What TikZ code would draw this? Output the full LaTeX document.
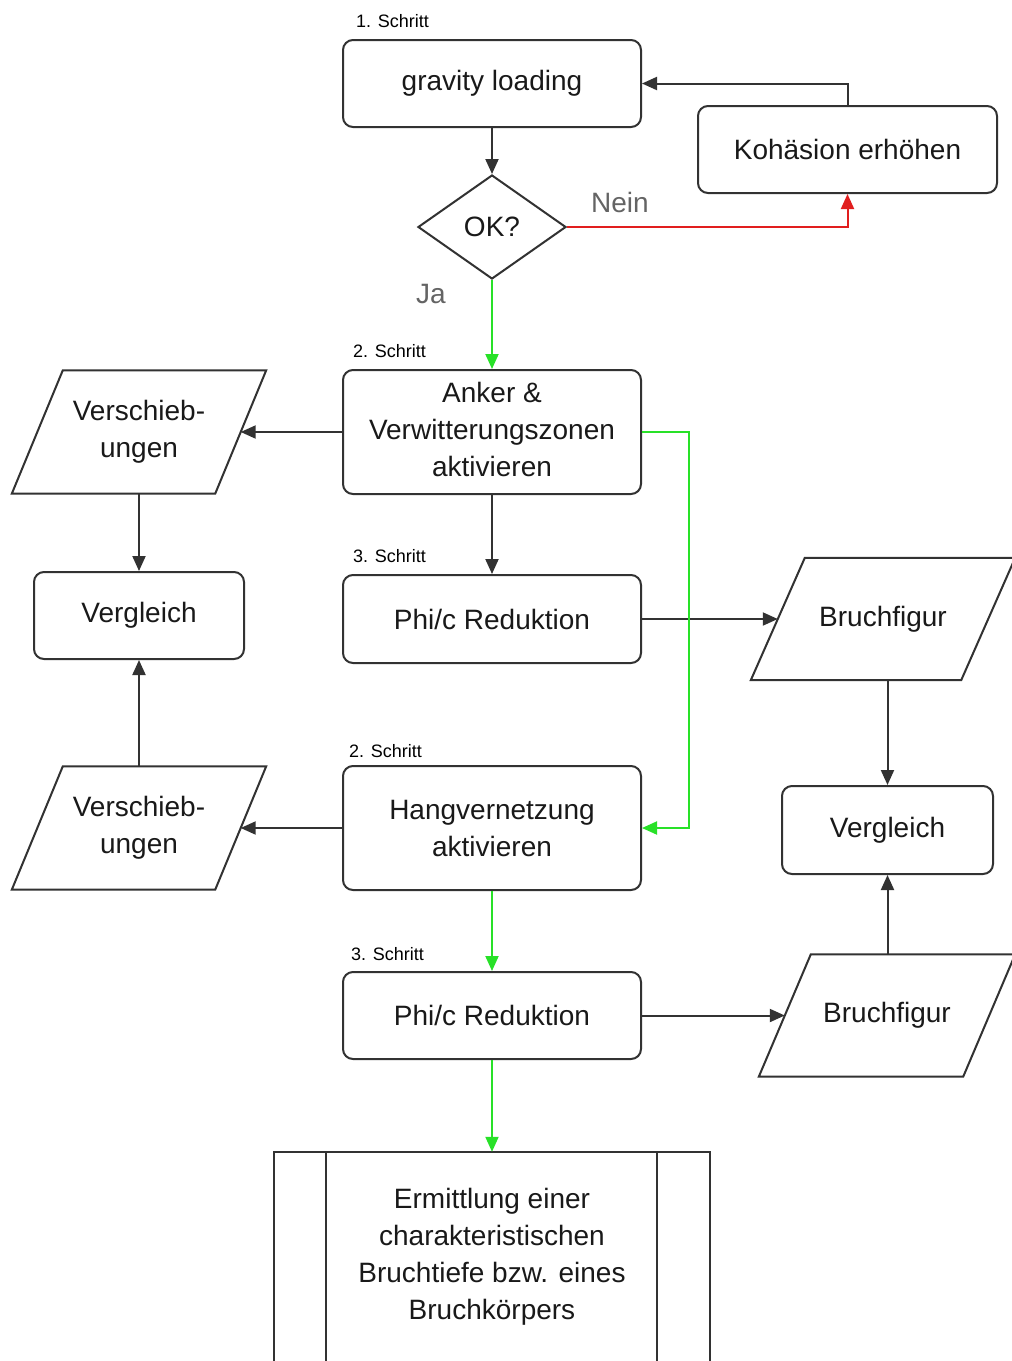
\documentclass[tikz,border=0pt]{standalone}
\usepackage{fontspec}
\setmainfont{Liberation Sans}
\usetikzlibrary{shapes.geometric,arrows.meta}
\definecolor{lgreen}{RGB}{40,225,40}
\definecolor{lred}{RGB}{225,30,30}
\definecolor{edgec}{RGB}{50,50,50}
\definecolor{txtc}{RGB}{25,25,25}
\definecolor{lblc}{RGB}{100,100,100}
\begin{document}
\begin{tikzpicture}[x=1pt,y=-1pt,
  font=\fontsize{28}{37}\selectfont,
  proc/.style={draw=edgec, line width=2pt, rounded corners=10pt, minimum width=298pt, minimum height=#1, align=center, text=txtc, inner sep=0pt},
  proc/.default=87pt,
  io/.style={minimum width=#1, minimum height=123pt, align=center, text=txtc, inner sep=0pt},
  dec/.style={draw=edgec, line width=2pt, shape=diamond, minimum width=148pt, minimum height=104pt, inner sep=0pt, text=txtc},
  stepnote/.style={anchor=west, font=\fontsize{18}{20}\selectfont, text=black, inner sep=0pt},
  branch/.style={text=lblc, inner sep=0pt},
  conn/.style={line width=2pt, edgec, -{Triangle[length=15pt,width=13pt]}},
  outline/.style={draw=edgec, line width=2pt}
]
\fill[white] (0,0) rectangle (1012,1361);
\useasboundingbox (0,0) rectangle (1012,1361);

% step notes
\node[stepnote] (s1) at (356,21) {1. Schritt};
\node[stepnote] (s2) at (353,351) {2. Schritt};
\node[stepnote] (s3) at (353,556) {3. Schritt};
\node[stepnote] (s4) at (349,751) {2. Schritt};
\node[stepnote] (s5) at (351,954) {3. Schritt};

% process boxes
\node[proc] (grav) at (492,83.5) {gravity loading};
\node[proc, minimum width=299pt] (koh) at (847.5,149.5) {Kohäsion erhöhen};
\node[dec] (ok) at (492,227) {OK?};
\node[proc=124pt] (anker) at (492,432) {\raisebox{3pt}{\begin{tabular}{@{}c@{}}Anker \&\\Verwitterungszonen\\aktivieren\end{tabular}}};
\node[proc=88pt] (phi1) at (492,619) {Phi/c Reduktion};
\node[proc=124pt] (hang) at (492,828) {Hangvernetzung\\aktivieren};
\node[proc] (phi2) at (492,1015.5) {Phi/c Reduktion};
\node[proc=87pt, minimum width=210pt] (vl) at (139,615.5) {Vergleich};
\node[proc=88pt, minimum width=211pt] (vr) at (887.5,830) {Vergleich};

% data (parallelograms)
\node[io=203pt] (v1) at (139,432) {Verschieb-\\ungen};
\node[io=203pt] (v2) at (139,828) {Verschieb-\\ungen};
\node[io=210pt, minimum height=122pt] (b1) at (883,619) {Bruchfigur};
\node[io=204pt, minimum height=122pt] (b2) at (887,1015.5) {Bruchfigur};
\foreach \n/\s in {v1/25.5, v2/25.5, b1/27, b2/26}{
  \draw[outline] ([xshift=\s pt]\n.north west) -- ([xshift=\s pt]\n.north east)
    -- ([xshift=-\s pt]\n.south east) -- ([xshift=-\s pt]\n.south west) -- cycle;
}

% predefined process
\node[align=center, text=txtc, minimum width=436pt, minimum height=209pt, inner sep=0pt] (erm) at (492,1256.5)
  {Ermittlung einer\\charakteristischen\\Bruchtiefe bzw. eines\\Bruchkörpers};
\draw[outline] (erm.south west) -- (erm.north west) -- (erm.north east) -- (erm.south east);
\draw[outline] ([xshift=52pt]erm.south west) -- ([xshift=52pt]erm.north west);
\draw[outline] ([xshift=-53pt]erm.south east) -- ([xshift=-53pt]erm.north east);

% branch labels
\node[branch] (nein) at (620,202) {Nein};
\node[branch] (ja) at (431,294) {Ja};

% connectors
\coordinate (g1) at (689,432);
\draw[conn] (grav) -- (ok);
\draw[conn, lred] (ok.east) -| (koh.south);
\draw[conn] (koh.north) |- (grav.east);
\draw[conn, lgreen] (ok.south) -- (anker.north);
\draw[conn] (anker.west) -- (v1.east);
\draw[conn] (v1.south) -- (vl.north);
\draw[conn] (anker.south) -- (phi1.north);
\draw[conn] (phi1.east) -- (b1.west);
\draw[conn, lgreen] (anker.east) -- (g1) |- (hang.east);
\draw[conn] (b1.south -| vr.north) -- (vr.north);
\draw[conn] (hang.west) -- (v2.east);
\draw[conn] (v2.north) -- (vl.south);
\draw[conn, lgreen] (hang.south) -- (phi2.north);
\draw[conn] (phi2.east) -- (b2.west);
\draw[conn] (b2.north -| vr.south) -- (vr.south);
\draw[conn, lgreen] (phi2.south) -- (erm.north);
\end{tikzpicture}
\end{document}
